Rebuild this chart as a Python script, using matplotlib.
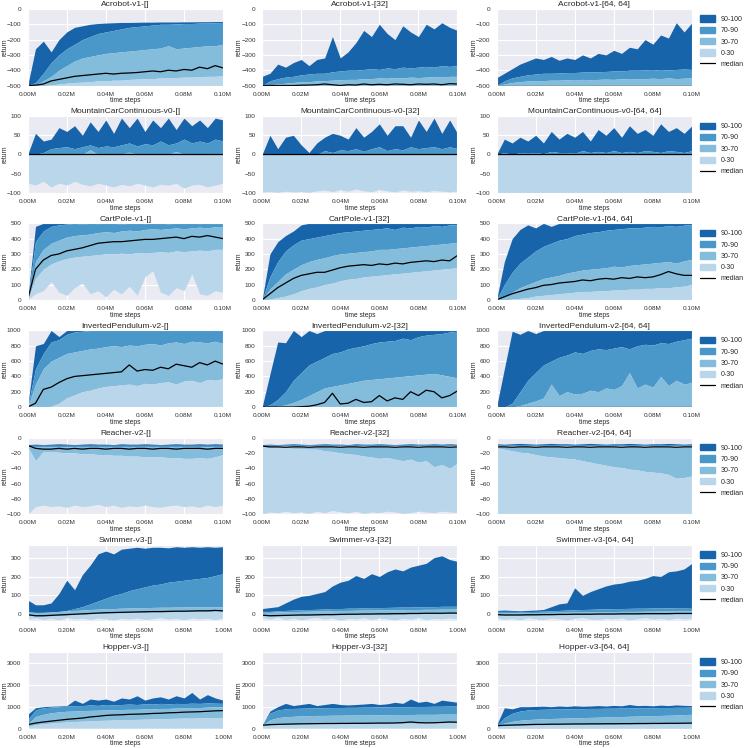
import numpy as np
import matplotlib
matplotlib.use("Agg")
import matplotlib.pyplot as plt
import seaborn as sns
from matplotlib.patches import Patch
from matplotlib.lines import Line2D
from matplotlib.ticker import FuncFormatter, MultipleLocator

# ---- layout of the grid ----
envs = ["Acrobot-v1", "MountainCarContinuous-v0", "CartPole-v1", "InvertedPendulum-v2",
        "Reacher-v2", "Swimmer-v3", "Hopper-v3"]
archs = ["[]", "[32]", "[64, 64]"]
env_steps = [1e5, 1e5, 1e5, 1e5, 1e5, 1e6, 1e6]
env_ylim = [(-500, 0), (-100, 100), (0, 500), (0, 1000), (-100, 0), (-38, 368), (0, 3500)]
env_ystep = [100, 50, 100, 200, 20, 100, 1000]
band_labels = ["90-100", "70-90", "30-70", "0-30"]
band_colors = ["#1764ab", "#4a98c9", "#84bcdb", "#b9d6ea"]

# ---- percentile curves, 26 evaluations per run ----
# Acrobot-v1
acrobot_a = dict(
    p100=[-500, -260, -210, -280, -200, -150, -120, -110, -100, -95, -92, -90, -88, -88, -87, -86, -86, -85, -85, -85, -84, -84, -83, -83, -82, -82],
    p90=[-500, -480, -420, -350, -300, -260, -230, -200, -180, -160, -150, -140, -130, -120, -115, -110, -105, -100, -100, -98, -95, -95, -92, -92, -90, -88],
    p70=[-500, -495, -470, -440, -400, -370, -340, -320, -310, -300, -290, -285, -280, -275, -270, -265, -260, -255, -240, -260, -255, -250, -245, -240, -240, -230],
    p30=[-500, -500, -500, -495, -490, -485, -480, -478, -475, -470, -470, -465, -465, -460, -458, -455, -455, -450, -450, -448, -445, -445, -442, -440, -440, -435],
    p0=-500,
    med=[-500, -498, -490, -470, -460, -450, -440, -435, -430, -425, -420, -425, -420, -418, -415, -410, -405, -410, -400, -405, -395, -400, -380, -390, -370, -385],
)
acrobot_b = dict(
    p100=[-440, -420, -360, -380, -350, -330, -370, -330, -320, -180, -320, -280, -220, -140, -180, -100, -160, -200, -110, -150, -180, -100, -130, -90, -120, -140],
    p90=[-500, -470, -455, -445, -440, -430, -425, -420, -420, -410, -405, -400, -400, -395, -390, -395, -385, -390, -380, -385, -380, -375, -380, -370, -375, -370],
    p70=[-500, -495, -490, -485, -480, -475, -475, -470, -468, -465, -462, -460, -460, -455, -455, -450, -452, -448, -450, -445, -448, -445, -442, -445, -440, -440],
    p30=-500,
    p0=-500,
    med=[-500, -500, -500, -500, -500, -498, -497, -495, -490, -495, -500, -495, -497, -490, -495, -492, -495, -490, -492, -495, -490, -492, -490, -495, -488, -490],
)
acrobot_c = dict(
    p100=[-450, -420, -390, -360, -340, -320, -330, -310, -335, -320, -330, -300, -320, -290, -300, -270, -290, -250, -260, -200, -230, -170, -190, -90, -150, -90],
    p90=[-500, -470, -450, -440, -430, -425, -420, -420, -418, -415, -415, -412, -410, -410, -408, -405, -405, -400, -400, -398, -400, -395, -398, -395, -392, -395],
    p70=[-500, -490, -480, -475, -470, -468, -468, -465, -465, -462, -465, -460, -462, -460, -458, -460, -455, -458, -455, -455, -452, -455, -450, -455, -452, -450],
    p30=-500,
    p0=-500,
    med=-500,
)
# MountainCarContinuous-v0
mcar_a = dict(
    p100=[0, 55, 35, 40, 70, 60, 75, 50, 85, 60, 90, 55, 95, 70, 95, 60, 90, 70, 95, 65, 95, 75, 90, 70, 95, 90],
    p90=[0, 0, 5, 15, 18, 20, 15, 20, 25, 18, 22, 20, 25, 30, 22, 28, 25, 35, 25, 30, 40, 30, 35, 30, 40, 35],
    p70=[0, 0, 0, 0, 0, 0, 0, 0, 12, 0, 0, 0, 0, 6, 0, 0, 0, 0, 0, 8, 0, 0, 0, 0, 0, 0],
    p30=0,
    p0=[-75, -80, -70, -85, -75, -80, -70, -78, -82, -75, -80, -85, -78, -82, -75, -80, -85, -78, -80, -75, -88, -80, -78, -85, -80, -75],
    med=0,
)
mcar_b = dict(
    p100=[0, 50, 15, 45, 50, 25, 5, 30, 45, 55, 50, 40, 70, 45, 60, 80, 50, 75, 75, 45, 90, 60, 95, 55, 90, 55],
    p90=[0, 0, 0, 0, 0, 0, 0, 0, 10, 5, 12, 10, 15, 8, 15, 20, 10, 15, 12, 20, 15, 18, 20, 15, 20, 15],
    p70=0,
    p30=0,
    p0=[-98, -97, -99, -96, -98, -97, -99, -95, -93, -97, -92, -96, -90, -95, -97, -92, -95, -98, -93, -96, -95, -97, -94, -96, -98, -95],
    med=0,
)
mcar_c = dict(
    p100=[0, 40, 30, 45, 35, 50, 30, 60, 40, 55, 45, 60, 35, 65, 50, 70, 45, 75, 55, 65, 50, 80, 60, 70, 55, 75],
    p90=[0, 5, 0, 5, 3, 5, 2, 8, 5, 5, 3, 10, 5, 8, 5, 10, 5, 8, 5, 10, 8, 5, 10, 8, 5, 10],
    p70=0,
    p30=0,
    p0=-100,
    med=0,
)
# CartPole-v1
cartpole_a = dict(
    p100=[0, 480] + [500] * 24,
    p90=[0, 380, 450, 480, 490, 495, 500, 495, 500, 498, 500, 500, 495, 500, 500, 498, 500, 500, 497, 500, 500, 500, 498, 500, 500, 500],
    p70=[0, 250, 330, 370, 390, 410, 420, 425, 430, 440, 445, 440, 450, 455, 450, 460, 465, 460, 465, 470, 465, 470, 475, 470, 478, 480],
    p30=[0, 140, 200, 235, 255, 270, 280, 285, 290, 295, 300, 300, 305, 300, 310, 305, 310, 315, 310, 320, 315, 320, 325, 320, 330, 330],
    p0=[0, 40, 60, 120, 50, 30, 80, 110, 40, 60, 20, 70, 40, 90, 30, 150, 190, 50, 30, 80, 60, 170, 40, 30, 60, 50],
    med=[0, 200, 260, 290, 300, 320, 330, 340, 355, 370, 375, 380, 380, 385, 390, 395, 395, 400, 405, 410, 400, 415, 410, 420, 410, 400],
)
cartpole_b = dict(
    p100=[0, 300, 380, 420, 450, 490] + [500] * 20,
    p90=[0, 150, 250, 320, 360, 390, 400, 410, 420, 430, 440, 445, 450, 455, 460, 465, 470, 460, 475, 470, 480, 475, 485, 480, 490, 490],
    p70=[0, 70, 120, 170, 200, 230, 250, 265, 275, 290, 300, 305, 310, 315, 320, 330, 330, 335, 340, 345, 350, 355, 360, 365, 370, 375],
    p30=[0, 5, 15, 25, 40, 60, 75, 85, 100, 110, 125, 135, 140, 150, 155, 160, 165, 170, 175, 180, 185, 190, 195, 200, 205, 210],
    p0=0,
    med=[0, 40, 80, 110, 140, 160, 170, 180, 180, 195, 210, 220, 225, 230, 225, 235, 230, 240, 235, 245, 250, 255, 250, 260, 255, 290],
)
cartpole_c = dict(
    p100=[0, 250, 400, 460, 490, 470, 500, 480] + [500] * 18,
    p90=[0, 100, 180, 240, 280, 320, 350, 370, 390, 400, 420, 430, 440, 445, 455, 460, 465, 470, 470, 475, 480, 478, 485, 480, 488, 490],
    p70=[0, 20, 50, 80, 100, 120, 140, 150, 160, 175, 185, 195, 200, 205, 210, 220, 215, 225, 230, 235, 240, 245, 250, 240, 255, 265],
    p30=[0, 0, 5, 10, 15, 25, 30, 35, 40, 45, 50, 55, 55, 60, 60, 65, 65, 70, 70, 75, 75, 80, 80, 85, 90, 100],
    p0=0,
    med=[0, 20, 40, 55, 70, 80, 95, 100, 110, 115, 120, 130, 125, 135, 140, 135, 145, 140, 150, 145, 150, 165, 185, 170, 160, 160],
)
# InvertedPendulum-v2
invpend_a = dict(
    p100=[0, 800, 830, 1000, 920] + [1000] * 21,
    p90=[0, 500, 700, 850, 880, 950, 980, 990] + [1000] * 18,
    p70=[0, 300, 500, 600, 650, 700, 720, 740, 760, 770, 790, 800, 790, 810, 800, 820, 830, 810, 840, 850, 830, 860, 850, 840, 860, 830],
    p30=[0, 0, 0, 10, 50, 120, 160, 200, 220, 250, 270, 280, 290, 300, 280, 310, 300, 320, 330, 300, 340, 350, 320, 360, 350, 370],
    p0=0,
    med=[0, 50, 230, 260, 320, 370, 400, 410, 420, 430, 440, 450, 460, 550, 470, 490, 480, 520, 500, 560, 540, 520, 580, 550, 600, 560],
)
invpend_b = dict(
    p100=[0, 430, 850, 840, 1000, 920, 1000, 960] + [1000] * 18,
    p90=[0, 30, 100, 200, 350, 450, 550, 600, 650, 700, 720, 760, 780, 800, 830, 850, 860, 870, 900, 880, 920, 940, 950, 960, 980, 990],
    p70=[0, 0, 10, 30, 60, 100, 150, 200, 250, 270, 290, 310, 330, 350, 360, 370, 380, 390, 400, 410, 420, 430, 440, 420, 400, 380],
    p30=0,
    p0=0,
    med=[0, 0, 0, 0, 0, 5, 10, 30, 60, 180, 40, 50, 100, 60, 70, 150, 80, 120, 100, 200, 150, 220, 200, 120, 150, 210],
)
invpend_c = dict(
    p100=[0, 500, 990, 950, 1000, 960] + [1000] * 20,
    p90=[0, 0, 50, 200, 350, 450, 550, 600, 650, 680, 720, 700, 740, 760, 750, 770, 790, 760, 800, 820, 810, 840, 830, 860, 880, 900],
    p70=[0, 0, 0, 20, 50, 80, 120, 300, 150, 200, 170, 180, 220, 200, 250, 230, 280, 450, 250, 300, 260, 400, 280, 350, 300, 320],
    p30=0,
    p0=0,
    med=3,
)
# Reacher-v2
reacher_a = dict(
    p100=[-9, -8.5, -9, -8.5, -8, -8.5, -9, -8.5, -8, -8.5, -8.5, -9, -8, -8.5, -8.5, -8, -8.5, -9, -8.5, -8, -8.5, -8.5, -8, -8.5, -8, -8.5],
    p90=-10,
    p70=[-12, -12.5, -12, -12, -12.5, -12, -12, -12.5, -12, -12, -12.5, -12, -12, -12.5, -12, -12, -12.5, -12, -12, -12.5, -12, -12, -12.5, -12, -12, -12],
    p30=[-12, -30, -18, -18, -19, -20, -20, -21, -21, -22, -22, -23, -23, -24, -24, -25, -25, -25, -26, -26, -27, -27, -26, -27, -25, -22],
    p0=[-100, -90, -88, -90, -89, -91, -88, -90, -89, -87, -90, -88, -91, -89, -90, -88, -90, -91, -89, -88, -90, -89, -91, -88, -90, -88],
    med=[-10, -14, -15, -15, -14, -15, -14, -15, -14, -14, -15, -14, -14, -15, -14, -14, -15, -14, -14, -15, -14, -14, -14, -15, -14, -14],
)
reacher_b = dict(
    p100=[-9, -8.5, -9, -8.5, -8, -8.5, -9, -8.5, -8, -8.5, -8.5, -9, -8, -8.5, -8.5, -8, -8.5, -9, -8.5, -8, -8.5, -8.5, -8, -8.5, -8, -8.5],
    p90=-10,
    p70=-11.5,
    p30=[-12, -13, -13, -13, -14, -14, -15, -15, -17, -18, -20, -21, -22, -24, -25, -27, -26, -28, -30, -28, -32, -30, -38, -35, -40, -33],
    p0=[-100, -97, -98, -96, -98, -97, -99, -96, -98, -95, -97, -98, -96, -99, -97, -98, -96, -97, -99, -98, -96, -97, -98, -96, -97, -98],
    med=[-11, -12, -12, -12.5, -12, -12, -12.5, -12, -12, -12, -12.5, -12, -12, -12.5, -12, -12, -12, -12.5, -12, -12, -12.5, -12, -12, -12, -12.5, -12],
)
reacher_c = dict(
    p100=[-8, -8.5, -8, -7.5, -8, -8.5, -8, -7.5, -8, -8, -8.5, -8, -7.5, -8, -8.5, -8, -8, -7.5, -8, -8.5, -8, -8, -7.5, -8, -8.5, -8],
    p90=-10,
    p70=-11.5,
    p30=[-13, -15, -17, -19, -20, -22, -24, -25, -26, -27, -28, -30, -32, -34, -36, -38, -39, -41, -42, -44, -45, -46, -48, -53, -52, -50],
    p0=-100,
    med=[-12, -12, -12.5, -12, -12, -12.5, -12, -12, -12, -12.5, -12, -12, -12.5, -12, -12, -12, -12.5, -12, -12, -12.5, -12, -12, -12, -12.5, -12, -12],
)
# Swimmer-v3
swimmer_a = dict(
    p100=[75, 50, 50, 60, 110, 180, 130, 210, 260, 320, 335, 320, 345, 350, 355, 350, 355, 355, 352, 358, 355, 358, 355, 358, 355, 358],
    p90=[10, 8, 10, 12, 15, 20, 30, 40, 55, 70, 85, 100, 110, 125, 135, 145, 155, 160, 170, 175, 180, 185, 190, 195, 205, 215],
    p70=[15, 10, 10, 12, 15, 18, 20, 22, 25, 27, 30, 30, 32, 33, 35, 35, 36, 37, 37, 38, 38, 39, 39, 40, 40, 40],
    p30=[-7, -12, -12, -10, -8, -6, -4, -2, 0, 2, 4, 5, 6, 7, 8, 9, 10, 10, 11, 12, 12, 13, 14, 14, 16, 14],
    p0=[-25, -20, -28, -22, -30, -18, -25, -22, -28, -20, -25, -30, -22, -26, -20, -28, -24, -18, -26, -22, -30, -20, -25, -22, -28, -20],
    med=[-3, -8, -8, -6, -4, -2, 0, 2, 4, 6, 8, 9, 10, 11, 12, 13, 14, 14, 15, 16, 16, 17, 18, 18, 20, 18],
)
swimmer_b = dict(
    p100=[30, 35, 40, 60, 80, 95, 100, 110, 120, 150, 170, 180, 205, 190, 215, 200, 225, 240, 230, 250, 260, 270, 300, 310, 290, 280],
    p90=[15, 15, 18, 20, 22, 24, 25, 26, 28, 30, 30, 32, 32, 34, 35, 35, 36, 37, 38, 38, 40, 40, 40, 42, 42, 42],
    p70=[10, 10, 12, 13, 14, 15, 16, 17, 18, 19, 20, 20, 21, 22, 22, 23, 23, 24, 24, 25, 25, 26, 26, 27, 27, 28],
    p30=[-9, -12, -11, -10, -9, -8, -8, -7, -6, -6, -5, -4, -4, -3, -3, -2, -2, -1, -1, 0, 0, 1, 1, 1, 2, 2],
    p0=[-18, -25, -15, -28, -20, -30, -22, -18, -26, -20, -32, -22, -25, -18, -28, -20, -24, -30, -22, -26, -18, -28, -22, -25, -20, -24],
    med=[-5, -8, -7, -6, -5, -4, -4, -3, -2, -2, -1, 0, 0, 1, 1, 2, 2, 3, 3, 4, 4, 5, 5, 5, 6, 6],
)
swimmer_c = dict(
    p100=[20, 22, 20, 18, 20, 22, 25, 40, 55, 60, 140, 100, 120, 135, 150, 160, 165, 175, 180, 190, 205, 200, 225, 230, 240, 270],
    p90=[15, 15, 15, 14, 14, 15, 16, 18, 20, 22, 24, 25, 26, 28, 28, 30, 30, 31, 32, 32, 33, 34, 34, 35, 35, 36],
    p70=[8, 8, 8, 8, 9, 9, 10, 10, 11, 11, 12, 12, 13, 13, 14, 14, 15, 15, 15, 16, 16, 17, 17, 18, 18, 18],
    p30=[-6, -8, -8, -8, -7, -7, -6, -6, -5, -5, -4, -4, -4, -3, -3, -3, -2, -2, -2, -1, -1, -1, -1, 0, 0, 0],
    p0=[-20, -26, -22, -30, -18, -25, -28, -20, -24, -30, -22, -18, -26, -28, -22, -25, -20, -30, -24, -18, -26, -22, -28, -20, -25, -22],
    med=[-2, -4, -4, -4, -3, -3, -2, -2, -1, -1, 0, 0, 0, 1, 1, 1, 2, 2, 2, 3, 3, 3, 3, 4, 4, 4],
)
# Hopper-v3
hopper_a = dict(
    p100=[650, 950, 1000, 1020, 1030, 1050, 1300, 1150, 1350, 1300, 1350, 1250, 1400, 1350, 1500, 1300, 1400, 1450, 1350, 1500, 1400, 1650, 1350, 1550, 1400, 1300],
    p90=[400, 850, 950, 980, 1000, 1020, 1050, 1050, 1080, 1060, 1100, 1080, 1100, 1120, 1100, 1130, 1120, 1150, 1130, 1150, 1140, 1160, 1150, 1170, 1160, 1150],
    p70=[200, 550, 650, 720, 760, 790, 800, 820, 830, 840, 850, 860, 870, 880, 880, 900, 900, 920, 920, 940, 950, 960, 960, 980, 990, 1000],
    p30=[80, 180, 220, 250, 280, 300, 320, 340, 350, 370, 380, 390, 400, 410, 420, 430, 440, 450, 460, 470, 480, 480, 490, 500, 500, 510],
    p0=20,
    med=[180, 250, 300, 340, 380, 420, 450, 480, 530, 560, 600, 620, 630, 650, 660, 670, 690, 700, 720, 730, 750, 760, 770, 790, 810, 820],
)
hopper_b = dict(
    p100=[150, 800, 1000, 1150, 1050, 1100, 1150, 1050, 1100, 1150, 1100, 1080, 1100, 1120, 1150, 1100, 1130, 1200, 1150, 1350, 1200, 1250, 1150, 1300, 1250, 1200],
    p90=[150, 700, 850, 900, 920, 930, 940, 950, 950, 960, 960, 970, 970, 980, 980, 990, 990, 1000, 1000, 1000, 1010, 1010, 1020, 1020, 1030, 1030],
    p70=[150, 400, 500, 540, 560, 580, 590, 600, 600, 610, 610, 620, 620, 620, 630, 630, 630, 640, 640, 640, 650, 650, 650, 660, 660, 660],
    p30=[120, 150, 170, 180, 190, 200, 205, 210, 215, 220, 220, 225, 225, 230, 230, 235, 235, 240, 240, 245, 245, 250, 250, 255, 255, 260],
    p0=20,
    med=[150, 180, 190, 200, 210, 215, 220, 225, 230, 230, 235, 235, 240, 240, 245, 250, 250, 255, 270, 300, 270, 260, 265, 280, 300, 290],
)
hopper_c = dict(
    p100=[150, 950, 900, 1000, 1000, 1010, 1020, 1000, 1030, 1010, 1040, 1020, 1030, 1050, 1030, 1060, 1040, 1100, 1050, 1060, 1040, 1070, 1050, 1080, 1060, 1050],
    p90=[120, 500, 700, 800, 850, 870, 880, 890, 900, 900, 910, 910, 920, 920, 930, 930, 940, 940, 950, 950, 950, 960, 960, 970, 970, 980],
    p70=[120, 250, 330, 380, 410, 430, 450, 460, 470, 480, 490, 500, 510, 520, 530, 540, 550, 560, 570, 580, 590, 600, 610, 620, 640, 650],
    p30=[100, 120, 130, 140, 150, 155, 160, 165, 170, 170, 175, 175, 180, 180, 185, 185, 190, 190, 195, 195, 200, 200, 205, 205, 210, 210],
    p0=10,
    med=[130, 150, 160, 170, 180, 190, 190, 200, 200, 205, 210, 210, 215, 215, 220, 220, 225, 225, 230, 230, 235, 235, 240, 240, 245, 250],
)

panels = [
    [acrobot_a, acrobot_b, acrobot_c],
    [mcar_a, mcar_b, mcar_c],
    [cartpole_a, cartpole_b, cartpole_c],
    [invpend_a, invpend_b, invpend_c],
    [reacher_a, reacher_b, reacher_c],
    [swimmer_a, swimmer_b, swimmer_c],
    [hopper_a, hopper_b, hopper_c],
]
n_evals = 26


def curve(v):
    """Scalar or list -> array of n_evals values."""
    arr = np.asarray(v, dtype=float)
    if arr.ndim == 0:
        arr = np.full(n_evals, float(v))
    return arr


sns.set_style("darkgrid")
plt.rcParams["font.family"] = ["Liberation Sans", "DejaVu Sans"]
plt.rcParams["xtick.major.pad"] = 1.0
plt.rcParams["ytick.major.pad"] = 1.0

fig, axes = plt.subplots(7, 3, figsize=(7.48, 7.48), dpi=100)
fig.subplots_adjust(left=0.037, right=0.925, top=0.988, bottom=0.026, wspace=0.2, hspace=0.4)

for r, env in enumerate(envs):
    steps = np.linspace(0, env_steps[r], n_evals)
    for c, arch in enumerate(archs):
        ax = axes[r][c]
        d = panels[r][c]
        p0, p30, p70, p90, p100 = (curve(d[k]) for k in ("p0", "p30", "p70", "p90", "p100"))
        ax.fill_between(steps, p90, p100, color=band_colors[0], lw=0)
        ax.fill_between(steps, p70, p90, color=band_colors[1], lw=0)
        ax.fill_between(steps, p30, p70, color=band_colors[2], lw=0)
        ax.fill_between(steps, p0, p30, color=band_colors[3], lw=0)
        ax.plot(steps, curve(d["med"]), color="black", lw=0.9)

        ax.set_xlim(0, env_steps[r])
        ax.set_ylim(*env_ylim[r])
        ax.xaxis.set_major_locator(MultipleLocator(env_steps[r] / 5))
        ax.xaxis.set_major_formatter(FuncFormatter(lambda v, p: f"{v / 1e6:.2f}M"))
        ax.yaxis.set_major_locator(MultipleLocator(env_ystep[r]))
        ax.tick_params(labelsize=4.6, colors="#333333")
        ax.set_title(f"{env}-{arch}", fontsize=6, pad=2)
        ax.set_xlabel("time steps", fontsize=4.8, labelpad=0.5)
        ax.set_ylabel("return", fontsize=4.8)
        ax.yaxis.set_label_coords(-0.1, 0.5)
        ax.grid(color="white", lw=0.8)

    handles = [Patch(color=col, label=lab) for col, lab in zip(band_colors, band_labels)]
    handles.append(Line2D([], [], color="black", lw=0.9, label="median"))
    axes[r][2].legend(handles=handles, loc="upper left", bbox_to_anchor=(1.02, 0.97),
                      frameon=False, fontsize=5, handlelength=2.2, handleheight=1.0,
                      labelspacing=0.55, borderaxespad=0.2)

fig.savefig("out.png", dpi=100)
